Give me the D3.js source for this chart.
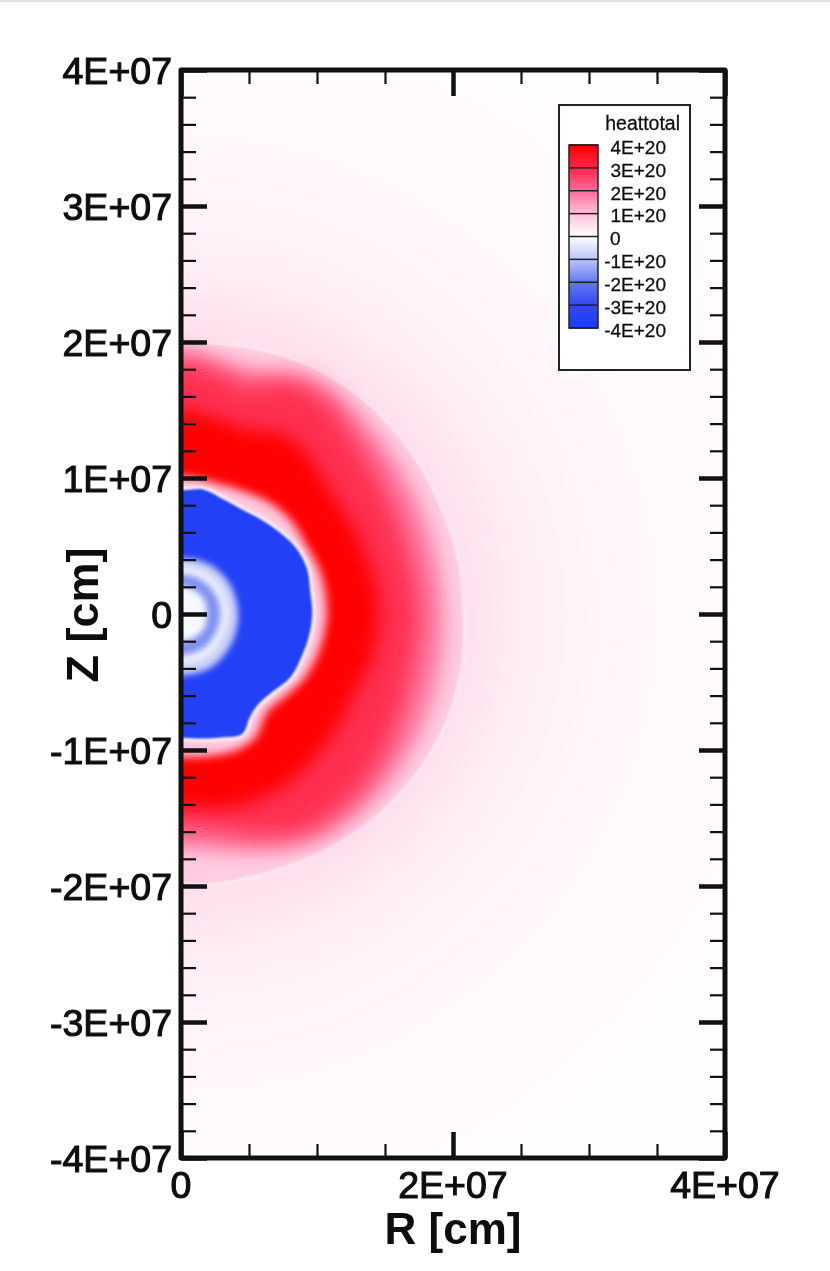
<!DOCTYPE html>
<html>
<head>
<meta charset="utf-8">
<script src="https://cdn.jsdelivr.net/npm/d3@7"></script>
<style>
html, body { margin: 0; padding: 0; background: #fff; }
svg { display: block; }
text { font-family: "Liberation Sans", Arial, sans-serif; fill: #111; }
</style>
</head>
<body>
<script>
// axis ticks, in cm
var rMajorTicks = [0, 2e7, 4e7];
var rMinorTicks = [5e6, 1e7, 1.5e7, 2.5e7, 3e7, 3.5e7];
var zMajorTicks = [-4e7, -3e7, -2e7, -1e7, 0, 1e7, 2e7, 3e7, 4e7];
var zMinorTicks = d3.range(-3.8e7, 4e7, 2e6).filter(function(v) { return Math.abs(v / 1e7 - Math.round(v / 1e7)) > 0.01; });

// legend
var heatLevels = [4, 3, 2, 1, 0, -1, -2, -3, -4]; // x 1E+20
var heatLabels = ['4E+20', '3E+20', '2E+20', '1E+20', '0', '-1E+20', '-2E+20', '-3E+20', '-4E+20'];
var heatColors = ['#ff0000', '#ff2648', '#ff6a98', '#ffc0da', '#ffffff', '#bcc4f6', '#6478f0', '#3048f0', '#1c3cfa'];

// contours: elevation angle (deg), radius (1E+07 cm)
var shockTheta = [90, 80, 70, 60, 50, 40, 30, 20, 10, 0, -10, -20, -30, -40, -50, -60, -70, -80, -90];
var shockRadius = [1.99, 2.01, 2.04, 2.06, 2.07, 2.07, 2.07, 2.07, 2.08, 2.08, 2.10, 2.11, 2.10, 2.08, 2.06, 2.03, 2.01, 2.00, 1.99];
var frontTheta = [90, 75, 60, 45, 30, 15, 0, -15, -30, -45, -60, -75, -90];
var frontRadius = [1.93, 1.86, 1.98, 1.95, 1.93, 1.92, 1.93, 1.95, 1.96, 1.96, 1.93, 1.80, 1.72];
var midTheta = [90, 80, 74, 65, 55, 45, 35, 20, 0, -10, -20, -30, -40, -50, -60, -70, -80, -90];
var midRadius = [1.87, 1.80, 1.76, 1.90, 1.90, 1.82, 1.77, 1.74, 1.76, 1.75, 1.77, 1.80, 1.84, 1.86, 1.85, 1.75, 1.63, 1.57];
var coreTheta = [90, 80, 70, 60, 50, 40, 25, 10, 0, -12, -24, -41, -58, -74, -90];
var coreRadius = [1.50, 1.46, 1.44, 1.52, 1.48, 1.42, 1.42, 1.44, 1.45, 1.44, 1.40, 1.43, 1.47, 1.47, 1.42];
var gapTheta = [90, 70, 60, 50, 40, 30, 15, 0, -15, -28, -40, -49, -59, -68, -80, -90];
var gapRadius = [1.01, 1.00, 1.02, 1.05, 1.06, 1.05, 1.07, 1.07, 1.05, 1.02, 0.97, 0.96, 1.06, 1.08, 1.06, 1.05];
var blueTheta = [90, 80, 70, 60, 50, 40, 30, 20, 10, 0, -10, -20, -30, -40, -50, -56, -63, -72, -80, -90];
var blueRadius = [0.91, 0.93, 0.90, 0.89, 0.91, 0.94, 0.975, 0.985, 0.965, 0.965, 0.955, 0.94, 0.93, 0.885, 0.875, 0.91, 0.99, 0.955, 0.93, 0.91];
var ringTheta = [90, 60, 30, 0, -30, -60, -90];
var ringOuter = [0.41, 0.42, 0.42, 0.42, 0.43, 0.45, 0.45];
var ringBright = [0.35, 0.35, 0.35, 0.35, 0.35, 0.37, 0.37];
var ringDark = [0.29, 0.29, 0.29, 0.29, 0.29, 0.30, 0.30];
var ringCore = [0.20, 0.20, 0.20, 0.19, 0.20, 0.20, 0.20];

// faint halo around the front: radius (1E+07 cm), heat (x 1E+20)
var haloRadius = [0, 1.9, 2.15, 2.5, 3.0, 3.6, 5.0];
var haloHeat = [0.5, 0.5, 0.46, 0.3, 0.17, 0.09, 0.04];

var width = 830, height = 1271;
var plot = { left: 181, right: 725, top: 70, bottom: 1158 };

var x = d3.scaleLinear().domain([0, 4e7]).range([plot.left, plot.right]);
var y = d3.scaleLinear().domain([-4e7, 4e7]).range([plot.bottom, plot.top]);
var heatColor = d3.scaleLinear().domain(heatLevels).range(heatColors).interpolate(d3.interpolateRgb);

var svg = d3.select('body').append('svg').attr('width', width).attr('height', height);
var defs = svg.append('defs');

svg.append('rect').attr('width', width).attr('height', 2).attr('fill', '#dfe6e6');

function blur(id, amount) {
    defs.append('filter').attr('id', id)
        .attr('x', '-20%').attr('y', '-20%').attr('width', '140%').attr('height', '140%')
        .append('feGaussianBlur').attr('stdDeviation', amount);
}
blur('b1', 1); blur('b2', 2); blur('b3', 3); blur('b5', 5); blur('b9', 9); blur('b10', 10); blur('b12', 12); blur('soft', 0.5);

defs.append('clipPath').attr('id', 'plotClip').append('rect')
    .attr('x', plot.left).attr('y', plot.top)
    .attr('width', plot.right - plot.left).attr('height', plot.bottom - plot.top);

var halo = defs.append('radialGradient').attr('id', 'halo').attr('gradientUnits', 'userSpaceOnUse')
    .attr('cx', x(0)).attr('cy', y(0)).attr('r', x(5e7) - x(0));
haloRadius.forEach(function(r, i) {
    halo.append('stop').attr('offset', r / 5).attr('stop-color', heatColor(haloHeat[i]));
});

// closed outline, mirrored over the axis so the blur does not fade at R = 0
var outline = d3.line()
    .x(function(d) { return x(d.r * 1e7 * Math.cos(d.t * Math.PI / 180)); })
    .y(function(d) { return y(d.r * 1e7 * Math.sin(d.t * Math.PI / 180)); })
    .curve(d3.curveCatmullRomClosed.alpha(0.5));

function contour(theta, radius) {
    var half = theta.map(function(t, i) { return { t: t, r: radius[i] }; });
    var other = half.slice(1, -1).reverse().map(function(d) { return { t: 180 - d.t, r: d.r }; });
    return outline(half.concat(other));
}

var field = svg.append('g').attr('clip-path', 'url(#plotClip)');
field.append('rect').attr('x', plot.left).attr('y', plot.top)
    .attr('width', plot.right - plot.left).attr('height', plot.bottom - plot.top)
    .attr('fill', 'url(#halo)');

function layer(theta, radius, heat, filter) {
    return field.append('path').attr('d', contour(theta, radius))
        .attr('fill', heatColor(heat)).attr('filter', 'url(#' + filter + ')');
}

layer(shockTheta, shockRadius, 0.8, 'b1');
field.append('path').attr('d', contour(shockTheta, shockRadius)).attr('fill', 'none')
    .attr('stroke', '#fff').attr('stroke-width', 2).attr('stroke-opacity', 0.7).attr('filter', 'url(#b1)');
layer(frontTheta, frontRadius, 1.8, 'b10');
layer(midTheta, midRadius, 2.9, 'b12');
layer(coreTheta, coreRadius, 4, 'b9');
layer(gapTheta, gapRadius, 0.9, 'b5');
layer(blueTheta, blueRadius, 0, 'b2').attr('stroke', '#fff').attr('stroke-width', 5);
layer(blueTheta, blueRadius, -3.6, 'b1');
layer(ringTheta, ringOuter, -0.8, 'b3');
layer(ringTheta, ringBright, -0.25, 'b3');
layer(ringTheta, ringDark, -1.7, 'b3');
layer(ringTheta, ringCore, -0.1, 'b3');

// frame and ticks
function ticks(axis, pos, values, size, width) {
    var g = svg.append('g').attr('transform', pos)
        .call(axis.tickValues(values).tickSize(size).tickFormat(''));
    g.select('.domain').remove();
    g.selectAll('.tick line').attr('stroke', '#111').attr('stroke-width', width);
}
var leftPos = 'translate(' + plot.left + ',0)', rightPos = 'translate(' + plot.right + ',0)';
var topPos = 'translate(0,' + plot.top + ')', bottomPos = 'translate(0,' + plot.bottom + ')';

ticks(d3.axisLeft(y), leftPos, zMajorTicks, -26, 4.5);
ticks(d3.axisRight(y), rightPos, zMajorTicks, -26, 4.5);
ticks(d3.axisLeft(y), leftPos, zMinorTicks, -15, 2.2);
ticks(d3.axisRight(y), rightPos, zMinorTicks, -15, 2.2);
ticks(d3.axisBottom(x), topPos, rMajorTicks, 26, 4.5);
ticks(d3.axisTop(x), bottomPos, rMajorTicks, 26, 4.5);
ticks(d3.axisBottom(x), topPos, rMinorTicks, 14, 2.2);
ticks(d3.axisTop(x), bottomPos, rMinorTicks, 14, 2.2);

svg.append('rect').attr('x', plot.left).attr('y', plot.top)
    .attr('width', plot.right - plot.left).attr('height', plot.bottom - plot.top)
    .attr('fill', 'none').attr('stroke', '#111').attr('stroke-width', 5).attr('stroke-linejoin', 'round');

// tick labels
function tickLabel(v) {
    if (v === 0) return '0';
    return (v < 0 ? '-' : '') + Math.abs(v / 1e7) + 'E+07';
}
var labels = svg.append('g').attr('filter', 'url(#soft)');
labels.selectAll('text.z').data(zMajorTicks).enter().append('text').attr('class', 'z')
    .attr('x', plot.left - 9).attr('y', function(d) { return y(d); })
    .attr('dy', '0.36em').attr('text-anchor', 'end')
    .attr('font-size', 37.5).attr('stroke', '#111').attr('stroke-width', 1.1)
    .text(tickLabel);
labels.selectAll('text.r').data(rMajorTicks).enter().append('text').attr('class', 'r')
    .attr('x', function(d) { return x(d); }).attr('y', 1198)
    .attr('text-anchor', 'middle')
    .attr('font-size', 37.5).attr('stroke', '#111').attr('stroke-width', 1.1)
    .text(tickLabel);

labels.append('text').attr('x', 453).attr('y', 1244).attr('text-anchor', 'middle')
    .attr('font-size', 44).attr('font-weight', 'bold').text('R [cm]');
labels.append('text').attr('transform', 'translate(98,615) rotate(-90)').attr('text-anchor', 'middle')
    .attr('font-size', 45).attr('font-weight', 'bold').text('Z [cm]');

// legend
var legend = { left: 559, right: 690, top: 105, bottom: 370, barLeft: 569, barRight: 598 };
var barY = d3.scaleLinear().domain([4, -4]).range([145, 328]);

svg.append('rect').attr('x', legend.left).attr('y', legend.top)
    .attr('width', legend.right - legend.left).attr('height', legend.bottom - legend.top)
    .attr('fill', '#fff').attr('stroke', '#222').attr('stroke-width', 2);

var barFill = defs.append('linearGradient').attr('id', 'barFill')
    .attr('x1', 0).attr('x2', 0).attr('y1', 0).attr('y2', 1);
heatLevels.forEach(function(v) {
    barFill.append('stop').attr('offset', (4 - v) / 8).attr('stop-color', heatColor(v));
});
svg.append('rect').attr('x', legend.barLeft).attr('y', barY(4))
    .attr('width', legend.barRight - legend.barLeft).attr('height', barY(-4) - barY(4))
    .attr('fill', 'url(#barFill)').attr('stroke', '#222').attr('stroke-width', 1.5);
svg.selectAll('line.level').data(heatLevels).enter().append('line').attr('class', 'level')
    .attr('x1', legend.barLeft).attr('x2', legend.barRight)
    .attr('y1', function(d) { return barY(d); }).attr('y2', function(d) { return barY(d); })
    .attr('stroke', '#222').attr('stroke-width', 1.5);

var legendText = svg.append('g').attr('filter', 'url(#soft)');
legendText.append('text').attr('x', 680).attr('y', 130).attr('text-anchor', 'end')
    .attr('font-size', 19.5).attr('stroke', '#111').attr('stroke-width', 0.3).text('heattotal');
legendText.selectAll('text.level').data(heatLevels).enter().append('text').attr('class', 'level')
    .attr('x', function(d) { return d === 0 ? 610 : 666; })
    .attr('text-anchor', function(d) { return d === 0 ? 'start' : 'end'; })
    .attr('y', function(d) { return barY(d) + 2; }).attr('dy', '0.36em')
    .attr('font-size', 19).attr('stroke', '#111').attr('stroke-width', 0.3)
    .text(function(d, i) { return heatLabels[i]; });
</script>
</body>
</html>
